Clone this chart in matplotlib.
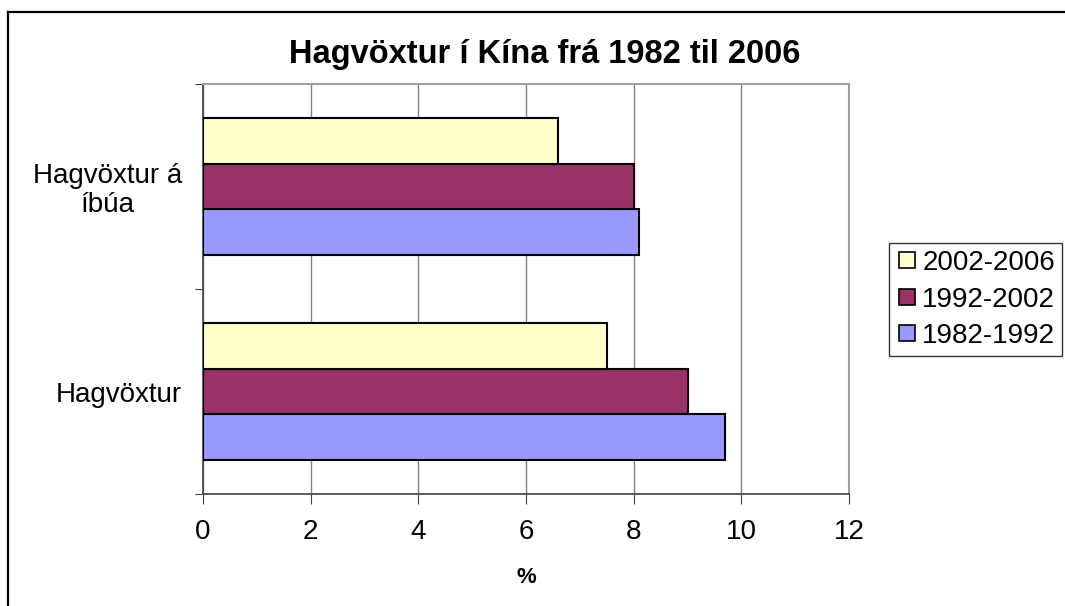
#import necessary modules
import numpy as np
import matplotlib.pyplot as plt
from matplotlib.lines import Line2D

plt.rcParams['font.family'] = ['Liberation Sans', 'DejaVu Sans']

#data
categories = ['Hagvöxtur', 'Hagvöxtur á\níbúa']
series     = ['1982-1992', '1992-2002', '2002-2006']
values     = {'1982-1992': [9.7, 8.1],
              '1992-2002': [9.0, 8.0],
              '2002-2006': [7.5, 6.6]}
colors     = {'1982-1992': '#9999FF',
              '1992-2002': '#993366',
              '2002-2006': '#FFFFCC'}
xticks     = [0, 2, 4, 6, 8, 10, 12]

#define figure; add axes
fig = plt.figure(figsize = (10.65, 6.06), dpi = 100)
ax  = fig.add_axes([0.1906, 0.1848, 0.6066, 0.6766])

#draw bars, blue at bottom, yellow on top
pos = np.arange(len(categories))
h   = 0.2233
for i, s in enumerate(series):
    ax.barh(pos + (i - 1) * h, values[s], height = h, color = colors[s],
            edgecolor = 'black', linewidth = 1.5, zorder = 3, label = s)

#axes limits, ticks and grid
ax.set_xlim(0, 12)
ax.set_ylim(-0.5, 1.5)
ax.set_xticks(xticks)
ax.set_xticklabels([str(t) for t in xticks], fontsize = 20)
ax.set_yticks([-0.5, 0.5, 1.5])
ax.set_yticklabels([])
ax.set_yticks(pos, minor = True)
ax.set_yticklabels(categories, minor = True, fontsize = 20,
                   multialignment = 'center', linespacing = 1.15)
ax.tick_params(axis = 'y', which = 'minor', length = 0, pad = 15)
ax.tick_params(axis = 'y', which = 'major', length = 6, direction = 'out', color = '#404040')
ax.tick_params(axis = 'x', length = 7, direction = 'out', color = '#404040', pad = 11)
ax.grid(axis = 'x', color = '#808080', linewidth = 1.0, zorder = 0)
ax.set_axisbelow(True)

for side in ['left', 'bottom']:
    ax.spines[side].set_color('#404040')
    ax.spines[side].set_linewidth(1.2)
for side in ['top', 'right']:
    ax.spines[side].set_color('#A0A0A0')
    ax.spines[side].set_linewidth(1.5)

ax.set_xlabel('%', fontsize = 16, fontweight = 'bold', labelpad = 16)
ax.set_title('Hagvöxtur í Kína frá 1982 til 2006', fontsize = 23.5,
             fontweight = 'bold', pad = 15, x = 0.529)

#legend, newest period first
handles = [Line2D([], [], marker = 's', linestyle = 'none', markersize = 12,
                  markerfacecolor = colors[s], markeredgecolor = 'black',
                  markeredgewidth = 1.2) for s in series[::-1]]
leg = fig.legend(handles, series[::-1], loc = 'upper left',
                 bbox_to_anchor = (0.8347, 0.599), fontsize = 20, frameon = True,
                 fancybox = False, handletextpad = 0.15, handlelength = 0.8,
                 borderpad = 0.25, labelspacing = 0.38, borderaxespad = 0)
leg.get_frame().set_edgecolor('black')
leg.get_frame().set_linewidth(1.0)

#outer border, top and left only
fig.add_artist(Line2D([0.0075, 1.0], [0.980, 0.980], color = 'black', linewidth = 1.6))
fig.add_artist(Line2D([0.0075, 0.0075], [0.0, 0.980], color = 'black', linewidth = 1.6))

#save figure
plt.savefig('out.png', dpi = 100)
